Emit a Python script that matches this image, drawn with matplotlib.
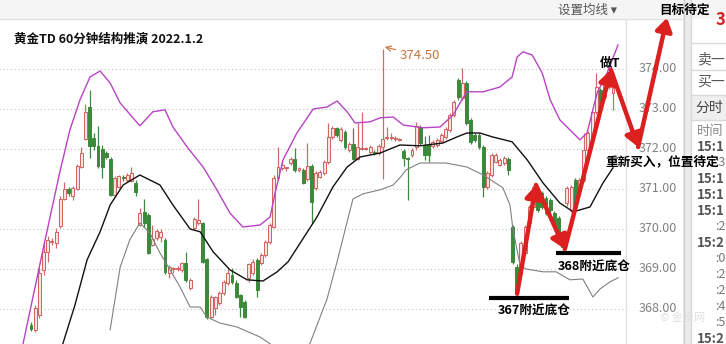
import numpy as np
import matplotlib
matplotlib.use('Agg')
import matplotlib.pyplot as plt
from matplotlib.patches import Rectangle

plt.rcParams['font.family'] = ['Noto Sans CJK SC', 'DejaVu Sans']

# 60分钟K线 (开, 高, 低, 收)
opens = [
    367.60, 367.48, 367.85, 368.98, 369.43, 369.68, 369.65, 370.08, 370.75, 371.00,
    370.83, 371.00, 371.55, 372.25, 373.05, 372.28, 372.08, 372.00, 371.90, 371.75,
    370.85, 371.05, 371.30, 371.23, 371.20, 371.15, 370.10, 370.43, 370.35, 369.60,
    369.78, 369.80, 369.73, 368.90, 369.00, 369.00, 368.98, 369.15, 368.53, 370.03,
    370.15, 370.15, 369.25, 367.80, 368.03, 368.15, 368.40, 368.65, 368.85, 368.65,
    368.35, 368.18, 368.78, 368.90, 369.23, 369.15, 369.35, 369.68, 370.05, 371.28,
    371.53, 371.53, 371.65, 371.75, 371.48, 371.48, 371.25, 371.58, 371.03, 371.30,
    371.40, 371.68, 372.30, 372.53, 372.23, 372.43, 371.98, 372.13, 371.75, 372.00,
    372.00, 371.93, 371.93, 371.90, 372.05, 372.28, 372.28, 372.25, 372.23, 371.95,
    371.78, 371.85, 372.05, 372.55, 372.10, 372.10, 372.08, 372.10, 372.20, 372.30,
    372.48, 372.85, 373.73, 373.28, 373.65, 372.73, 372.35, 372.35, 372.05, 371.05,
    371.35, 371.68, 371.60, 371.65, 371.75, 370.05, 369.05, 368.90, 369.40, 370.15,
    370.55, 370.98, 370.90, 370.78, 370.73, 370.40, 370.28, 369.80, 370.65, 370.48,
    371.23, 371.03, 371.23, 371.98, 372.30, 372.93, 373.48, 373.30, 373.55, 373.40,
]
highs = [
    367.68, 368.10, 369.03, 369.68, 369.83, 369.78, 370.03, 370.83, 371.18, 371.05,
    371.08, 371.63, 372.05, 373.13, 373.48, 372.40, 372.58, 372.10, 371.95, 371.80,
    371.33, 371.35, 371.35, 371.40, 371.55, 371.23, 370.53, 370.75, 370.40, 370.10,
    370.00, 370.00, 369.78, 369.10, 369.05, 369.08, 369.18, 369.43, 368.78, 370.30,
    370.75, 370.18, 369.28, 368.35, 368.33, 368.45, 368.73, 369.00, 369.03, 368.73,
    368.38, 368.23, 369.15, 369.25, 369.28, 369.40, 369.73, 370.15, 371.35, 372.05,
    371.73, 371.55, 371.80, 372.03, 371.55, 371.53, 372.15, 371.63, 371.45, 371.48,
    371.73, 372.65, 372.58, 372.55, 372.55, 372.48, 372.18, 372.53, 372.65, 372.93,
    372.05, 372.10, 371.98, 372.13, 374.50, 372.55, 372.40, 372.33, 372.28, 372.00,
    371.80, 372.03, 372.68, 372.60, 372.33, 372.35, 372.23, 372.28, 372.40, 372.55,
    372.90, 373.23, 373.78, 374.03, 373.70, 372.78, 372.40, 372.40, 372.10, 371.45,
    371.90, 371.90, 371.78, 371.83, 371.80, 370.10, 369.13, 369.70, 370.10, 370.60,
    371.10, 371.03, 370.95, 370.83, 370.78, 370.45, 370.33, 369.85, 371.08, 371.10,
    371.28, 371.28, 372.40, 372.45, 372.98, 373.90, 373.53, 373.70, 373.78, 373.58,
]
lows = [
    367.45, 367.43, 367.78, 368.85, 369.18, 369.60, 369.53, 370.03, 370.73, 370.83,
    370.73, 370.98, 371.53, 372.23, 371.78, 371.98, 371.53, 371.28, 371.75, 370.83,
    370.80, 371.03, 371.20, 371.18, 371.18, 370.83, 370.08, 370.05, 369.38, 369.58,
    369.73, 369.68, 368.88, 368.78, 368.90, 368.95, 368.93, 368.68, 368.48, 369.98,
    370.10, 369.15, 367.75, 367.78, 367.85, 368.10, 368.35, 368.60, 368.63, 368.28,
    367.80, 367.78, 368.68, 368.85, 368.30, 369.10, 369.30, 369.63, 370.03, 371.23,
    371.48, 371.45, 371.60, 371.43, 371.43, 371.13, 371.20, 370.15, 370.98, 371.28,
    371.35, 371.63, 372.25, 372.30, 372.18, 372.00, 371.93, 371.73, 371.73, 371.98,
    371.98, 371.88, 371.85, 371.85, 371.25, 372.23, 372.23, 372.20, 372.20, 371.58,
    370.73, 371.80, 371.98, 372.10, 371.73, 371.68, 372.03, 372.05, 372.15, 372.25,
    372.43, 372.80, 373.23, 373.23, 372.60, 372.13, 372.18, 372.00, 370.80, 371.00,
    371.30, 371.65, 371.58, 371.60, 371.35, 369.13, 368.33, 368.85, 369.35, 370.10,
    370.50, 370.43, 370.50, 370.35, 370.40, 370.00, 369.85, 369.48, 370.58, 370.43,
    370.50, 370.98, 371.18, 371.93, 372.25, 372.88, 373.00, 373.25, 373.50, 372.98,
]
closes = [
    367.50, 368.03, 368.90, 369.43, 369.73, 369.70, 369.93, 370.75, 371.00, 370.90,
    371.03, 371.58, 371.90, 372.93, 372.08, 372.08, 371.58, 371.55, 371.80, 370.85,
    371.28, 371.33, 371.28, 371.35, 371.40, 370.93, 370.40, 370.15, 369.40, 369.75,
    369.95, 369.93, 368.93, 369.05, 369.03, 369.03, 369.15, 368.73, 368.73, 370.25,
    370.23, 369.18, 367.80, 368.30, 368.30, 368.40, 368.68, 368.90, 368.68, 368.30,
    368.05, 367.80, 369.13, 369.18, 368.48, 369.35, 369.68, 370.10, 371.28, 371.55,
    371.60, 371.55, 371.75, 371.48, 371.53, 371.15, 371.58, 370.68, 371.40, 371.43,
    371.68, 372.30, 372.53, 372.35, 372.50, 372.05, 372.13, 371.75, 372.05, 372.03,
    372.03, 372.05, 371.90, 372.08, 372.25, 372.30, 372.30, 372.28, 372.25, 371.78,
    371.75, 371.98, 372.58, 372.15, 371.85, 371.85, 372.18, 372.23, 372.35, 372.50,
    372.85, 373.18, 373.30, 373.65, 372.65, 372.18, 372.23, 372.05, 371.05, 371.40,
    371.85, 371.85, 371.73, 371.78, 371.48, 369.18, 368.43, 369.65, 370.05, 370.55,
    371.05, 370.48, 370.55, 370.40, 370.48, 370.05, 369.90, 369.55, 371.03, 371.05,
    370.55, 371.23, 371.98, 372.40, 372.93, 373.55, 373.05, 373.65, 373.73, 373.53,
]

# 布林带 (按K线序号读取)
upper_x = [-1.9, 2.9, 6.9, 9.3, 11.7, 14.1, 16.5, 18.9, 21.3, 26.0, 29.1, 32.0, 33.9,
           37.3, 41.1, 44.4, 47.5, 50.6, 54.7, 57.1, 58.3, 60.2, 63.5, 67.4, 70.7, 73.1,
           75.5, 77.4, 81.0, 83.4, 86.5, 88.9, 93.6, 97.7, 100.8, 102.9, 104.1, 108.0,
           112.0, 114.9, 116.1, 117.5, 119.7, 122.1, 124.0, 126.3, 128.7, 131.1, 132.8,
           135.2, 137.6, 140.2]
upper_y = [367.13, 369.50, 371.43, 372.48, 373.23, 373.80, 373.95, 373.65, 373.15, 372.58,
           372.93, 372.98, 372.55, 372.05, 371.55, 370.98, 370.40, 370.05, 370.10, 370.30,
           370.90, 371.73, 372.40, 373.00, 373.05, 373.20, 372.93, 372.65, 372.68, 372.78,
           372.80, 372.60, 372.53, 372.55, 372.85, 373.23, 373.43, 373.43, 373.55, 373.80,
           374.30, 374.43, 374.35, 373.90, 373.23, 372.73, 372.48, 372.23, 372.40, 373.40,
           373.90, 374.60]
mid_x = [7.6, 10.5, 13.4, 16.5, 18.9, 22.0, 26.0, 30.8, 33.9, 38.0, 40.4, 43.5, 47.5,
         51.6, 55.4, 58.8, 61.4, 64.3, 68.3, 72.1, 75.5, 78.6, 83.4, 88.1, 92.9, 98.4,
         101.7, 104.1, 107.2, 110.3, 114.9, 118.5, 122.3, 126.3, 129.5, 133.5, 136.6, 139.0]
mid_y = [367.13, 368.10, 369.23, 369.93, 370.60, 371.10, 371.35, 371.10, 370.60, 370.00,
         369.93, 369.43, 368.98, 368.73, 368.70, 368.93, 369.18, 369.65, 370.30, 371.05,
         371.55, 371.80, 371.90, 372.10, 372.08, 372.15, 372.30, 372.40, 372.40, 372.30,
         372.18, 371.73, 371.15, 370.65, 370.43, 370.55, 371.15, 371.53]
lower_x = [18.9, 21.3, 23.6, 26.0, 28.4, 30.8, 33.2, 35.6, 38.0, 40.4, 42.0, 45.1, 49.2,
           54.7, 57.8, 61.9, 66.6, 70.7, 73.1, 75.5, 76.9, 79.3, 83.4, 86.5, 88.1, 89.6,
           92.9, 99.1, 104.1, 108.0, 112.7, 114.4, 115.1, 116.8, 118.2, 122.3, 125.4,
           128.7, 131.8, 134.2, 135.9, 138.3, 140.2]
lower_y = [367.48, 369.05, 369.73, 370.15, 369.90, 369.40, 368.98, 368.55, 368.05, 368.05,
           367.80, 367.65, 367.55, 367.30, 367.08, 366.83, 367.13, 368.25, 369.18, 370.18,
           370.75, 370.88, 370.98, 371.10, 371.28, 371.48, 371.65, 371.65, 371.55, 371.35,
           371.03, 370.60, 370.00, 369.10, 369.00, 368.93, 368.93, 368.73, 368.75, 368.30,
           368.50, 368.68, 368.78]

price_ticks = [374, 373, 372, 371, 370, 369, 368]

# 推演路径
path_x = [116.1, 120.6, 127.5, 138.5, 145.0, 151.9]
path_y = [368.38, 371.10, 369.50, 373.98, 372.05, 375.28]

# 右侧成交明细 (只露出一部分)
panel_rows = ['15:1', ':3', '15:1', '15:1', '15:1', ':2', '15:2',
              ':0', ':2', ':2', ':4', ':5', '15:2']

fig = plt.figure(figsize=(7.26, 3.44), dpi=100)
fig.patch.set_facecolor('white')

# 背景 / 界面 (像素坐标)
bg = fig.add_axes([0, 0, 1, 1], zorder=0)
bg.set_xlim(0, 726)
bg.set_ylim(344, 0)
bg.axis('off')
bg.add_patch(Rectangle((0, 0), 726, 19, color='#f5f5f5', lw=0))
bg.plot([0, 683], [19, 19], color='#e2e2e2', lw=1)
bg.text(558, 10, '设置均线 ▾', fontsize=9, color='#555555', va='center', ha='left')
bg.text(14, 39, '黄金TD 60分钟结构推演 2022.1.2', fontsize=9, fontweight='bold',
        color='#111111', va='center', ha='left')
bg.plot([626, 626], [19, 344], color='#e2e2e2', lw=1)
bg.add_patch(Rectangle((683, 0), 8, 344, color='#ebebeb', lw=0))
bg.plot([683.5, 683.5], [0, 344], color='#cfcfcf', lw=1)
bg.plot([691, 691], [0, 344], color='#d8d8d8', lw=1)
bg.add_patch(Rectangle((691, 95), 35, 25, color='#efefef', lw=0))
for yy in [43, 70, 95, 120]:
    bg.plot([691, 726], [yy, yy], color='#d9d9d9', lw=1)
bg.text(697, 59, '卖一', fontsize=10, color='#555555', va='center')
bg.text(697, 82, '买一', fontsize=10, color='#555555', va='center')
bg.text(695, 108, '分时', fontsize=10, color='#444444', va='center')
bg.text(697, 132, '时间', fontsize=9.5, color='#888888', va='center')
for k, t in enumerate(panel_rows):
    yy = 147 + k * 16
    if t.startswith(':'):
        bg.text(715, yy, t, fontsize=9, color='#777777', va='center')
    else:
        bg.text(697, yy, t, fontsize=9.5, fontweight='bold', color='#555555', va='center')
bg.text(716, 20, '3', fontsize=12, fontweight='bold', color='#d42020', va='center')
bg.text(660, 318, '© 金投网', fontsize=8, color='#e0e0e0', va='center')

# 主图
ax = fig.add_axes([0, 0, 626 / 726, 325 / 344], zorder=2)
ax.patch.set_alpha(0)
ax.set_xlim(-31 / 4.187, 595 / 4.187)
ax.set_ylim(367.125, 375.25)
ax.axis('off')

ax.hlines(price_ticks, -10, 150, colors='#cccccc', linestyles=(0, (1, 2)), lw=0.9, zorder=1)
for p in price_ticks:
    ax.text(677 / 626, p, f'{p:.2f}', transform=ax.get_yaxis_transform(),
            ha='right', va='center', fontsize=9, color='#808080', clip_on=False)

o = np.array(opens)
h = np.array(highs)
l = np.array(lows)
c = np.array(closes)
x = np.arange(len(o))
up = c >= o
wick_col = np.where(up, '#cf6a6a', '#3b8a3b')
face_col = np.where(up, '#f8e2e2', '#3b8a3b')
edge_col = np.where(up, '#d2605c', '#3b8a3b')
ax.vlines(x, l, h, colors=wick_col, lw=0.9, zorder=2)
ax.bar(x, np.maximum(np.abs(c - o), 0.02), bottom=np.minimum(o, c), width=0.7,
       color=face_col, edgecolor=edge_col, lw=0.7, zorder=2.5)

ax.plot(upper_x, upper_y, color='#b844c4', lw=1.0, zorder=3)
ax.plot(mid_x, mid_y, color='#111111', lw=1.0, zorder=3)
ax.plot(lower_x, lower_y, color='#808080', lw=0.8, zorder=3)

ax.annotate('374.50', xy=(84.5, 374.55), xytext=(88.1, 374.33), fontsize=9.5,
            color='#c8743c', va='center', ha='left',
            arrowprops=dict(arrowstyle='->', color='#c8743c', lw=0.8,
                            shrinkA=1, shrinkB=0))

# 底仓线
ax.hlines(368.28, 109.4, 128.5, colors='black', lw=3, zorder=5, clip_on=False)
ax.hlines(369.40, 125.4, 140.9, colors='black', lw=3, zorder=5, clip_on=False)

for k in range(len(path_x) - 1):
    ax.annotate('', xy=(path_x[k + 1], path_y[k + 1]), xytext=(path_x[k], path_y[k]),
                arrowprops=dict(arrowstyle='-|>,head_length=0.55,head_width=0.35',
                                color='#dc1f1f', lw=3.2, shrinkA=0, shrinkB=0,
                                mutation_scale=14),
                annotation_clip=False, zorder=6)

note = dict(fontsize=9.1, fontweight='bold', color='black', zorder=7)
ax.text(120.1, 367.95, '367附近底仓', ha='center', va='center', **note)
ax.text(134.5, 369.05, '368附近底仓', ha='center', va='center', **note)
ax.text(138.3, 374.15, '做T', ha='center', va='center', **note)
ax.text(137.1, 371.67, '重新买入，位置待定', ha='left', va='center', **note)
ax.text(156.0, 375.47, '目标待定', ha='center', va='center', **note)

fig.savefig('out.png', dpi=100, facecolor='white')
